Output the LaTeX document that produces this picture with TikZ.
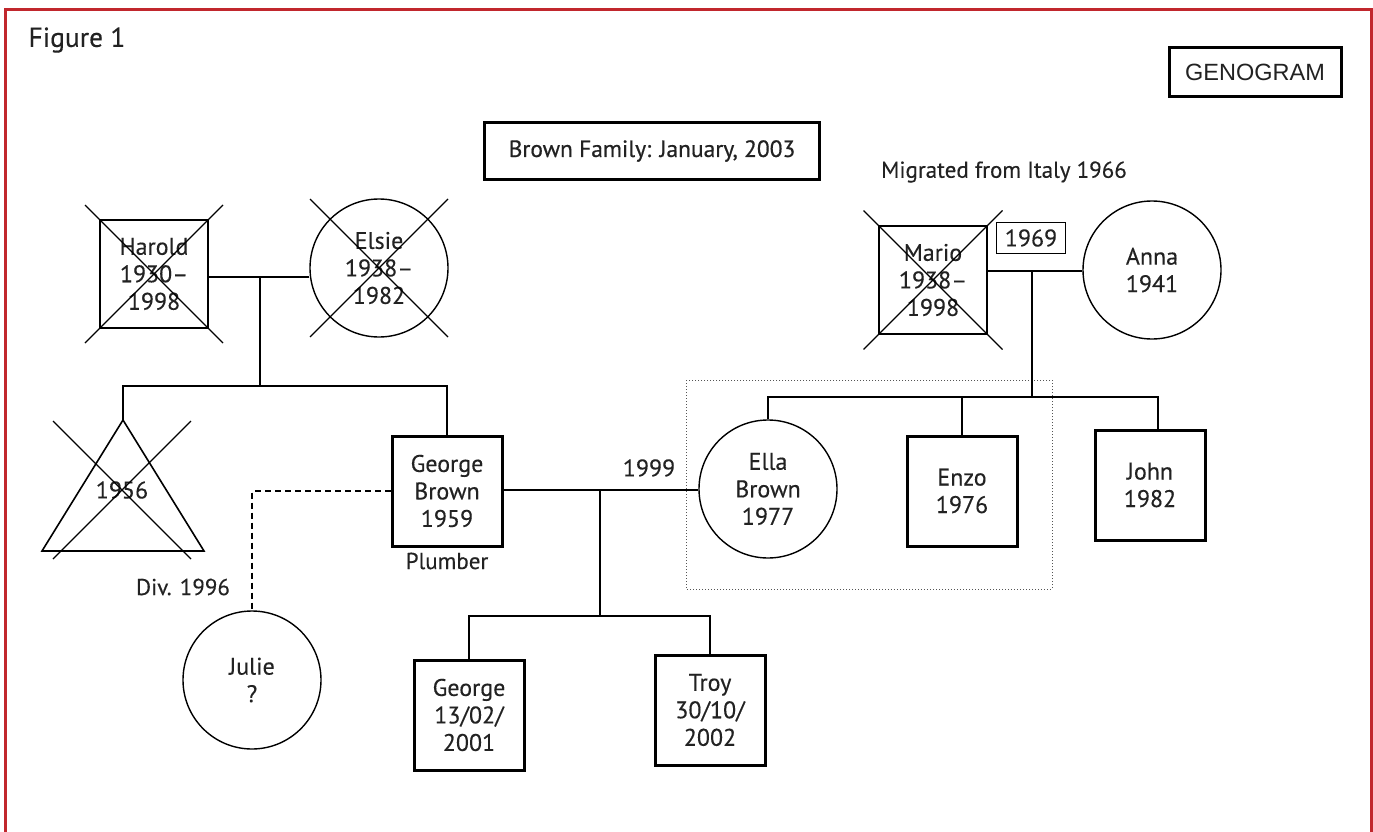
\documentclass[tikz,border=0pt]{standalone}
\usepackage{fontspec}
\setmainfont{PT Sans}[FakeBold=0.25]
\newfontfamily\arialfont{Liberation Sans}
\definecolor{txt}{HTML}{222222}
\definecolor{framered}{HTML}{C1272D}
\definecolor{dotgray}{HTML}{555555}
\newcommand\myPfont{\fontsize{24}{27.5}\selectfont\addfontfeature{FakeBold=0.3}}
\newcommand\myLfont{\fontsize{23}{26}\selectfont\addfontfeature{FakeBold=0.3}}
\newcommand\xcross[2]{%
  \draw[xline] ([shift={(-#2,-#2)}]#1) -- ([shift={(#2,#2)}]#1);
  \draw[xline] ([shift={(-#2,#2)}]#1) -- ([shift={(#2,-#2)}]#1);}
\tikzset{
  person/.style={draw, inner sep=0pt, align=center, font=\myPfont, text=txt},
  sqbox/.style={person, rectangle, minimum width=108pt, minimum height=108pt, line width=2pt},
  sqthick/.style={person, rectangle, minimum width=110pt, minimum height=110pt, line width=3pt},
  circ/.style={person, circle, minimum size=138pt, line width=1.4pt},
  link/.style={line width=1.4pt},
  xline/.style={line width=1.1pt},
  lbl/.style={font=\myLfont, inner sep=0pt, text=txt},
  titlebox/.style={draw, line width=3pt, inner sep=0pt, text=txt},
}
\begin{document}
\begin{tikzpicture}[x=1pt,y=-1pt]
\useasboundingbox (0,0) rectangle (1373,832);
% frame
\draw[framered, line width=3pt] (5,834) -- (5,10) -- (1371,10) -- (1371,834);
% titles
\node[lbl, font=\fontsize{27.5}{30}\selectfont\addfontfeature{FakeBold=0.3}] (fig) at (77,40) {Figure 1};
\node[titlebox, minimum width=172pt, minimum height=49pt, font=\arialfont\fontsize{23.5}{28}\selectfont] (geno) at (1255,72.5) {GENOGRAM};
\node[titlebox, minimum width=335pt, minimum height=56pt, font=\fontsize{23.5}{26}\selectfont\addfontfeature{FakeBold=0.6}] (brown) at (652,151) {Brown Family: January, 2003};
\node[lbl] (migr) at (1004,172) {Migrated from Italy 1966};
% dotted group
\draw[dotgray, dotted, line width=1pt] (686,380) rectangle (1052,589);
% first generation
\node[sqbox] (harold) at (154,274) {Harold\\1930--\\1998};
\node[circ] (elsie) at (379,268) {Elsie\\1938--\\1982};
\node[sqbox] (mario) at (933,280) {Mario\\1938--\\1998};
\node[circ] (anna) at (1152,270) {Anna\\1941};
\node[draw, line width=1.4pt, minimum width=69pt, minimum height=31pt, inner sep=0pt, font=\myPfont, text=txt] (m1969) at (1031,238) {1969};
\xcross{harold.center}{69}
\xcross{elsie.center}{69}
\xcross{mario.center}{69.5}
% second generation
\coordinate (triapex) at (123,420);
\draw[link, line width=1.6pt] (triapex) -- (42,551) -- (204,551) -- cycle;
\node[lbl, font=\myPfont] (t1956) at (122,490) {1956};
\xcross{t1956.center}{69}
\node[sqthick] (george) at (447,491) {George\\Brown\\1959};
\node[lbl] (plumber) at (447,561) {Plumber};
\node[circ] (ella) at (768,489) {Ella\\Brown\\1977};
\node[sqthick] (enzo) at (962,491) {Enzo\\1976};
\node[sqthick] (john) at (1150,485) {John\\1982};
\node[lbl, font=\myPfont] (y1999) at (649,468) {1999};
\node[circ] (julie) at (252,680) {Julie\\?};
\node[lbl] (div) at (183,587) {Div. 1996};
% third generation
\node[sqthick] (gjr) at (469,715) {George\\13/02/\\2001};
\node[sqthick] (troy) at (710,710) {Troy\\30/10/\\2002};
% connectors
\coordinate (hm) at (260,277);
\coordinate (hs) at (260,386);
\draw[link] (harold.east |- hm) -- (elsie.west |- hm);
\draw[link] (hm) -- (hs);
\draw[link] (triapex) |- (hs) -| (george.north);
\coordinate (mm) at (1032,271);
\coordinate (ms) at (1032,397);
\draw[link] (mario.east |- mm) -- (anna.west |- mm);
\draw[link] (mm) -- (ms);
\draw[link] (ella.north) |- (ms) -| ([xshift=8pt]john.north);
\draw[link] (enzo.north) -- (enzo.north |- ms);
\coordinate (gm) at (600,490);
\coordinate (gs) at (600,616);
\draw[link] (george.east |- gm) -- (ella.west |- gm);
\draw[link] (gm) -- (gs);
\draw[link] (gjr.north) |- (gs) -| (troy.north);
\draw[link, dashed, dash pattern=on 6pt off 4pt] (george.west) -| (julie.north);
\end{tikzpicture}
\end{document}
